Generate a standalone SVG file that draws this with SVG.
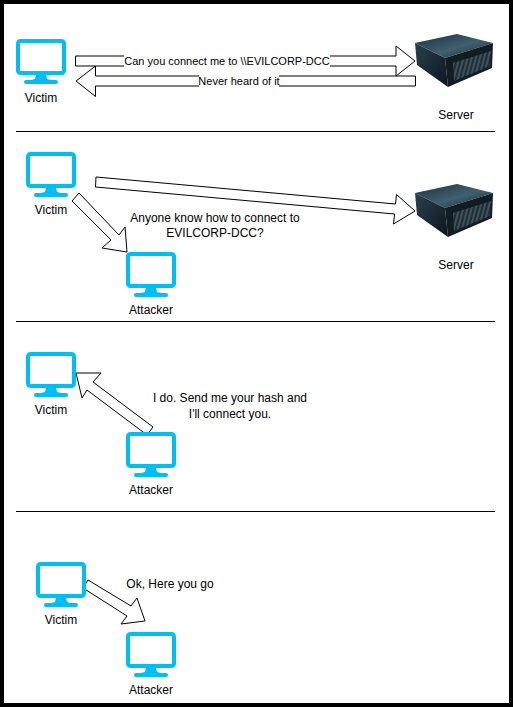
<svg xmlns="http://www.w3.org/2000/svg" width="513" height="707" viewBox="0 0 513 707">
<style>
text{font-family:"Liberation Sans",Arial,sans-serif;font-size:12px;fill:#000;text-anchor:middle}
text.small{font-size:11px}
.arrow{fill:#fff;stroke:#000;stroke-width:1;stroke-linejoin:miter}
.sep{stroke:#000;stroke-width:1;fill:none}
.scr{fill:#fff;stroke:#00bef2;stroke-width:4}
.mon{fill:#00bef2}
</style>
<defs>
<symbol id="monitor" width="50" height="46" viewBox="0 0 50 46" overflow="visible">
<rect class="scr" x="2" y="2" width="46" height="32" rx="2.5"/>
<path class="mon" d="M20 35H30L31 40C33 41 38 41 40 41Q42 41 42 43Q42 45 40 45H10Q8 45 8 43Q8 41 10 41C12 41 17 41 19 40Z"/>
</symbol>
<linearGradient id="top" x1="0" y1="0" x2="1" y2="1"><stop offset="0" stop-color="#1c2f3b"/><stop offset=".55" stop-color="#415f70"/><stop offset="1" stop-color="#18282f"/></linearGradient>
<linearGradient id="side" x1="0" y1="0" x2="1" y2="1"><stop offset="0" stop-color="#2a4150"/><stop offset="1" stop-color="#0c151b"/></linearGradient>
<pattern id="bays" width="4" height="6" patternUnits="userSpaceOnUse" patternTransform="rotate(15)"><rect width="4" height="6" fill="#1f2e37"/><path d="M1 0V6" stroke="#5f7580" stroke-width="1"/></pattern>
<symbol id="server" width="80" height="60" viewBox="0 0 80 60" overflow="visible">
<path d="M0 9L42 0L78 9L30 24Z" fill="url(#top)"/>
<path d="M0 9L30 24L33 53L2 31Z" fill="url(#side)"/>
<path d="M30 24L78 9L77 34L33 53Z" fill="#121c22"/>
<path d="M38 29L76 17L75 32L39 47Z" fill="url(#bays)"/>
</symbol>
</defs>
<rect width="513" height="707" fill="#fff"/>
<path d="M0 0H513V707H0Z" fill="none" stroke="#000" stroke-width="8"/>
<g id="separators">
<path class="sep" d="M16 131.5H495M16 321.5H495M16 511.5H495"/>
</g>
<g id="connectors">
<polygon class="arrow" points="76,81 95.5,66 95.5,76 415.5,76 415.5,86 95.5,86 95.5,96.5"/>
<polygon class="arrow" points="75.5,56 396,56 396,46 415,61 396,76 396,66 75.5,66"/>
<polygon class="arrow" points="96,177 395.5,204 396.5,194.5 415,211 393.5,224 394.6,214 95.5,187"/>
<polygon class="arrow" points="79,193 119,235 125,227 127,252 102,248 111,240 72,201"/>
<polygon class="arrow" points="76,373 101,373 93,382 153,427 147,435 87,390 82,398"/>
<polygon class="arrow" points="88,580 131,606 137,598 145,621 121,624 127,616 83,588"/>
</g>
<g id="edge-labels">
<rect x="124" y="55" width="206" height="13" fill="#fff"/>
<text class="small" x="227" y="65">Can you connect me to \\EVILCORP-DCC</text>
<rect x="199" y="75" width="80" height="13" fill="#fff"/>
<text class="small" x="239" y="84.5">Never heard of it</text>
</g>
<g id="victim1"><use href="#monitor" x="16" y="39"/><text x="41" y="102">Victim</text></g>
<g id="server1"><use href="#server" x="415" y="34"/><text x="456" y="119">Server</text></g>
<g id="victim2"><use href="#monitor" x="26" y="152"/><text x="51" y="214">Victim</text></g>
<g id="attacker2"><use href="#monitor" x="126" y="252"/><text x="151" y="314">Attacker</text></g>
<g id="server2"><use href="#server" x="415" y="184"/><text x="456" y="269">Server</text></g>
<g id="note2"><text x="215" y="222">Anyone know how to connect to</text><text x="215" y="237">EVILCORP-DCC?</text></g>
<g id="victim3"><use href="#monitor" x="26" y="352"/><text x="51" y="414">Victim</text></g>
<g id="attacker3"><use href="#monitor" x="126" y="432"/><text x="151" y="494">Attacker</text></g>
<g id="note3"><text x="230" y="402">I do. Send me your hash and</text><text x="230" y="418">I'll connect you.</text></g>
<g id="victim4"><use href="#monitor" x="36" y="562"/><text x="61" y="624">Victim</text></g>
<g id="attacker4"><use href="#monitor" x="126" y="632"/><text x="151" y="694">Attacker</text></g>
<g id="note4"><text x="170" y="588">Ok, Here you go</text></g>
</svg>
